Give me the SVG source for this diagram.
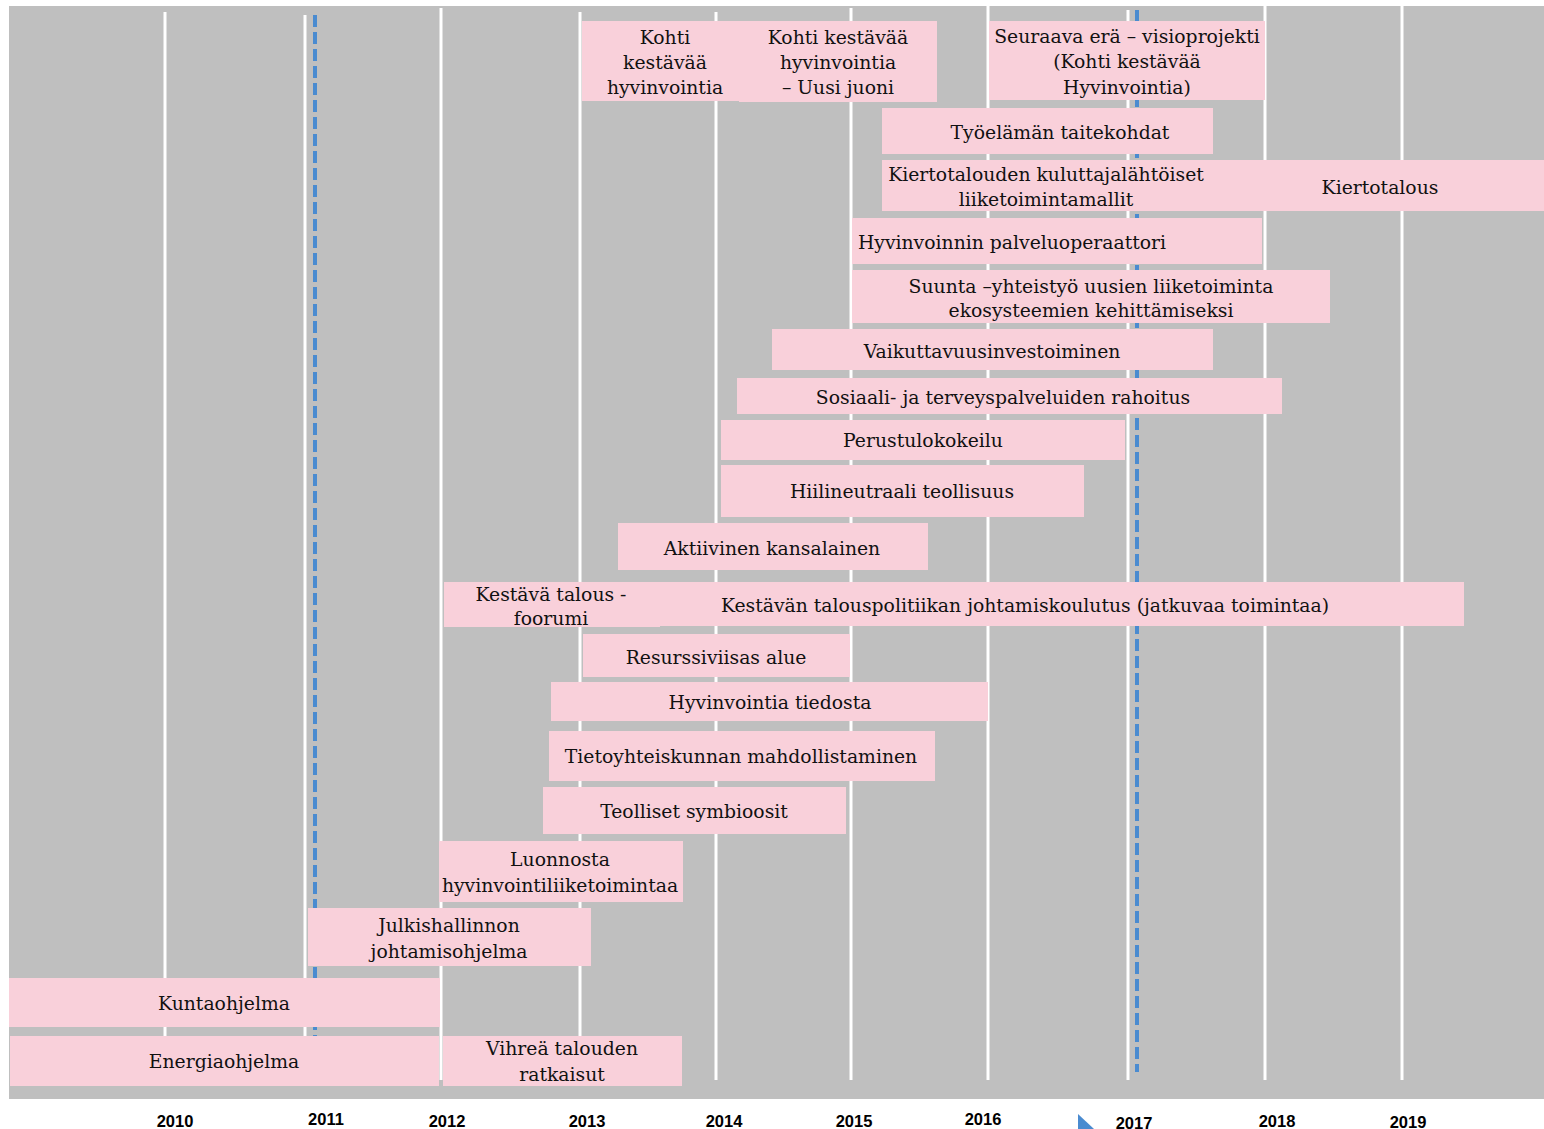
<svg xmlns="http://www.w3.org/2000/svg" width="1544" height="1129" viewBox="0 0 1544 1129">
<style>
.bg{fill:#BFBFBF}
.grid{stroke:#FFFFFF;stroke-width:3}
.dash{stroke:#4A8BD0;stroke-width:4;stroke-dasharray:12 5}
.box{fill:#F9D0DA}
.t{font-family:"DejaVu Serif","Liberation Serif",serif;font-size:18.8px;fill:#111;text-anchor:middle;dominant-baseline:central}
.yr{font-family:"Liberation Sans",Arial,sans-serif;font-size:16.5px;font-weight:bold;fill:#000;text-anchor:middle}
</style>
<rect class="bg" x="9" y="6" width="1535" height="1093"/>
<g id="grid">
<line class="grid" x1="165" y1="12" x2="165" y2="1080"/>
<line class="grid" x1="305" y1="15" x2="305" y2="1080"/>
<line class="grid" x1="441" y1="8" x2="441" y2="1080"/>
<line class="grid" x1="580" y1="12" x2="580" y2="1080"/>
<line class="grid" x1="716" y1="12" x2="716" y2="1080"/>
<line class="grid" x1="851" y1="8" x2="851" y2="1080"/>
<line class="grid" x1="988" y1="6" x2="988" y2="1080"/>
<line class="grid" x1="1128" y1="10" x2="1128" y2="1080"/>
<line class="grid" x1="1265" y1="6" x2="1265" y2="1080"/>
<line class="grid" x1="1402" y1="6" x2="1402" y2="1080"/>
<line class="dash" x1="315" y1="15" x2="315" y2="1072"/>
<line class="dash" x1="1137" y1="10" x2="1137" y2="1072"/>
</g>
<g id="n1"><rect class="box" x="582" y="21" width="157" height="80"/><text class="t" x="665" y="37">Kohti</text><text class="t" x="665" y="62">kestävää</text><text class="t" x="665" y="87">hyvinvointia</text></g>
<g id="n2"><rect class="box" x="739" y="21" width="198" height="81"/><text class="t" x="838" y="37">Kohti kestävää</text><text class="t" x="838" y="62">hyvinvointia</text><text class="t" x="838" y="87">– Uusi juoni</text></g>
<g id="n3"><rect class="box" x="989" y="21" width="276" height="79"/><text class="t" x="1127" y="36">Seuraava erä – visioprojekti</text><text class="t" x="1127" y="61">(Kohti kestävää</text><text class="t" x="1127" y="87">Hyvinvointia)</text></g>
<g id="n4"><rect class="box" x="882" y="108" width="331" height="46"/><text class="t" x="1060" y="132">Työelämän taitekohdat</text></g>
<g id="n5"><rect class="box" x="882" y="160" width="662" height="51"/><text class="t" x="1046" y="174">Kiertotalouden kuluttajalähtöiset</text><text class="t" x="1046" y="199">liiketoimintamallit</text><text class="t" x="1380" y="187">Kiertotalous</text></g>
<g id="n6"><rect class="box" x="852" y="218" width="410" height="46"/><text class="t" x="1012" y="242">Hyvinvoinnin palveluoperaattori</text></g>
<g id="n7"><rect class="box" x="852" y="270" width="478" height="53"/><text class="t" x="1091" y="286">Suunta –yhteistyö uusien liiketoiminta</text><text class="t" x="1091" y="310">ekosysteemien kehittämiseksi</text></g>
<g id="n8"><rect class="box" x="772" y="329" width="441" height="41"/><text class="t" x="992" y="351">Vaikuttavuusinvestoiminen</text></g>
<g id="n9"><rect class="box" x="737" y="378" width="545" height="36"/><text class="t" x="1003" y="397">Sosiaali- ja terveyspalveluiden rahoitus</text></g>
<g id="n10"><rect class="box" x="721" y="420" width="404" height="40"/><text class="t" x="923" y="440">Perustulokokeilu</text></g>
<g id="n11"><rect class="box" x="721" y="465" width="363" height="52"/><text class="t" x="902" y="491">Hiilineutraali teollisuus</text></g>
<g id="n12"><rect class="box" x="618" y="523" width="310" height="47"/><text class="t" x="772" y="548">Aktiivinen kansalainen</text></g>
<g id="n13"><rect class="box" x="660" y="582" width="804" height="44"/><rect class="box" x="444" y="582" width="216" height="45"/><text class="t" x="551" y="594">Kestävä talous -</text><text class="t" x="551" y="618">foorumi</text><text class="t" x="1025" y="605">Kestävän talouspolitiikan johtamiskoulutus (jatkuvaa toimintaa)</text></g>
<g id="n14"><rect class="box" x="583" y="634" width="267" height="43"/><text class="t" x="716" y="657">Resurssiviisas alue</text></g>
<g id="n15"><rect class="box" x="551" y="682" width="437" height="39"/><text class="t" x="770" y="702">Hyvinvointia tiedosta</text></g>
<g id="n16"><rect class="box" x="549" y="731" width="386" height="50"/><text class="t" x="741" y="756">Tietoyhteiskunnan mahdollistaminen</text></g>
<g id="n17"><rect class="box" x="543" y="787" width="303" height="47"/><text class="t" x="694" y="811">Teolliset symbioosit</text></g>
<g id="n18"><rect class="box" x="439" y="841" width="244" height="61"/><text class="t" x="560" y="859">Luonnosta</text><text class="t" x="560" y="885">hyvinvointiliiketoimintaa</text></g>
<g id="n19"><rect class="box" x="308" y="908" width="283" height="58"/><text class="t" x="449" y="925">Julkishallinnon</text><text class="t" x="449" y="951">johtamisohjelma</text></g>
<g id="n20"><rect class="box" x="9" y="978" width="431" height="49"/><text class="t" x="224" y="1003">Kuntaohjelma</text></g>
<g id="n21"><rect class="box" x="10" y="1036" width="429" height="50"/><text class="t" x="224" y="1061">Energiaohjelma</text></g>
<g id="n22"><rect class="box" x="443" y="1036" width="239" height="50"/><text class="t" x="562" y="1048">Vihreä talouden</text><text class="t" x="562" y="1074">ratkaisut</text></g>
<g id="axis">
<text class="yr" x="175" y="1127">2010</text>
<text class="yr" x="326" y="1125">2011</text>
<text class="yr" x="447" y="1127">2012</text>
<text class="yr" x="587" y="1127">2013</text>
<text class="yr" x="724" y="1127">2014</text>
<text class="yr" x="854" y="1127">2015</text>
<text class="yr" x="983" y="1125">2016</text>
<text class="yr" x="1134" y="1129">2017</text>
<text class="yr" x="1277" y="1127">2018</text>
<text class="yr" x="1408" y="1128">2019</text>
<polygon points="1078,1114 1078,1129 1094,1129" fill="#4A8BD0"/>
</g>
</svg>
